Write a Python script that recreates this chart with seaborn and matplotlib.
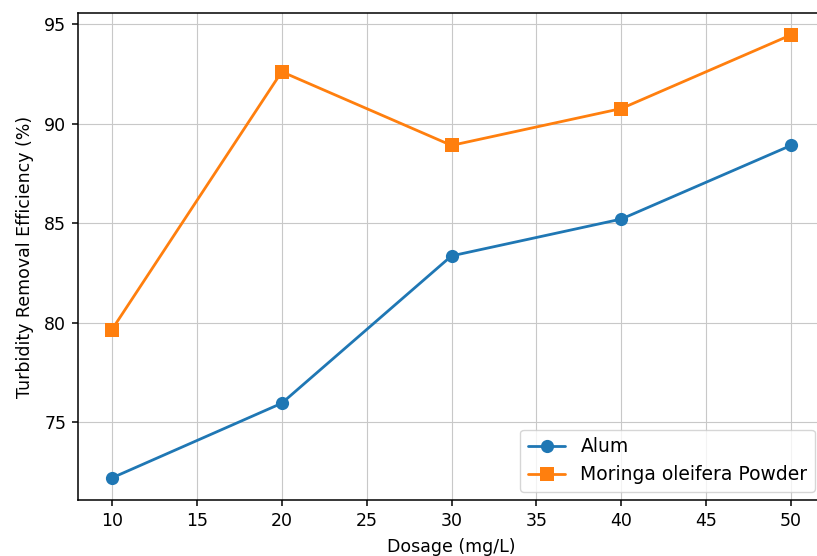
import matplotlib
matplotlib.use("Agg")
import matplotlib.pyplot as plt
import seaborn as sns
import pandas as pd

# values
dosage = [10, 20, 30, 40, 50]
alum = [72.2, 75.95, 83.35, 85.2, 88.9]
moringa = [79.65, 92.6, 88.9, 90.75, 94.45]
series_names = ["Alum", "Moringa oleifera Powder"]

df = pd.DataFrame({
    "Dosage": dosage * 2,
    "Efficiency": alum + moringa,
    "Coagulant": [series_names[0]] * len(dosage) + [series_names[1]] * len(dosage),
})

sns.set_style("whitegrid")
plt.rcParams["font.family"] = ["DejaVu Sans"]
plt.rcParams["axes.edgecolor"] = "black"
plt.rcParams["grid.color"] = "#c8c8c8"
plt.rcParams["text.color"] = "black"
plt.rcParams["axes.labelcolor"] = "black"
plt.rcParams["xtick.color"] = "black"
plt.rcParams["ytick.color"] = "black"

FS = 12.5

fig = plt.figure(figsize=(8.17, 5.56), dpi=100)
# the reference is cropped on the right and bottom, so the axes run past the canvas
ax = fig.add_axes([78 / 817, 56 / 556, (825 - 78) / 817, (500 - 13) / 556])

sns.lineplot(
    data=df, x="Dosage", y="Efficiency", hue="Coagulant", style="Coagulant",
    markers={series_names[0]: "o", series_names[1]: "s"}, dashes=False,
    palette=["#1f77b4", "#ff7f0e"], markersize=9.5, markeredgewidth=0,
    linewidth=2.0, ax=ax,
)

ax.set_xlim(8, 52)
ax.set_ylim(71.09, 95.55)
ax.set_xticks([10, 15, 20, 25, 30, 35, 40, 45, 50])
ax.set_yticks([75, 80, 85, 90, 95])
ax.tick_params(axis="both", labelsize=FS, length=4.5, width=1.1,
               left=True, bottom=True, pad=4)
ax.set_xlabel("Dosage (mg/L)", fontsize=FS, labelpad=6)
ax.set_ylabel("Turbidity Removal Efficiency (%)", fontsize=FS, labelpad=7)
for s in ax.spines.values():
    s.set_linewidth(1.1)
    s.set_color("black")
ax.spines["right"].set_visible(False)

leg = ax.legend(loc="lower right", fontsize=13.5, frameon=True,
                bbox_to_anchor=(815 / 817, (556 - 492) / 556),
                bbox_transform=fig.transFigure, borderaxespad=0)
leg.set_title(None)

fig.savefig("out.png", dpi=100)
